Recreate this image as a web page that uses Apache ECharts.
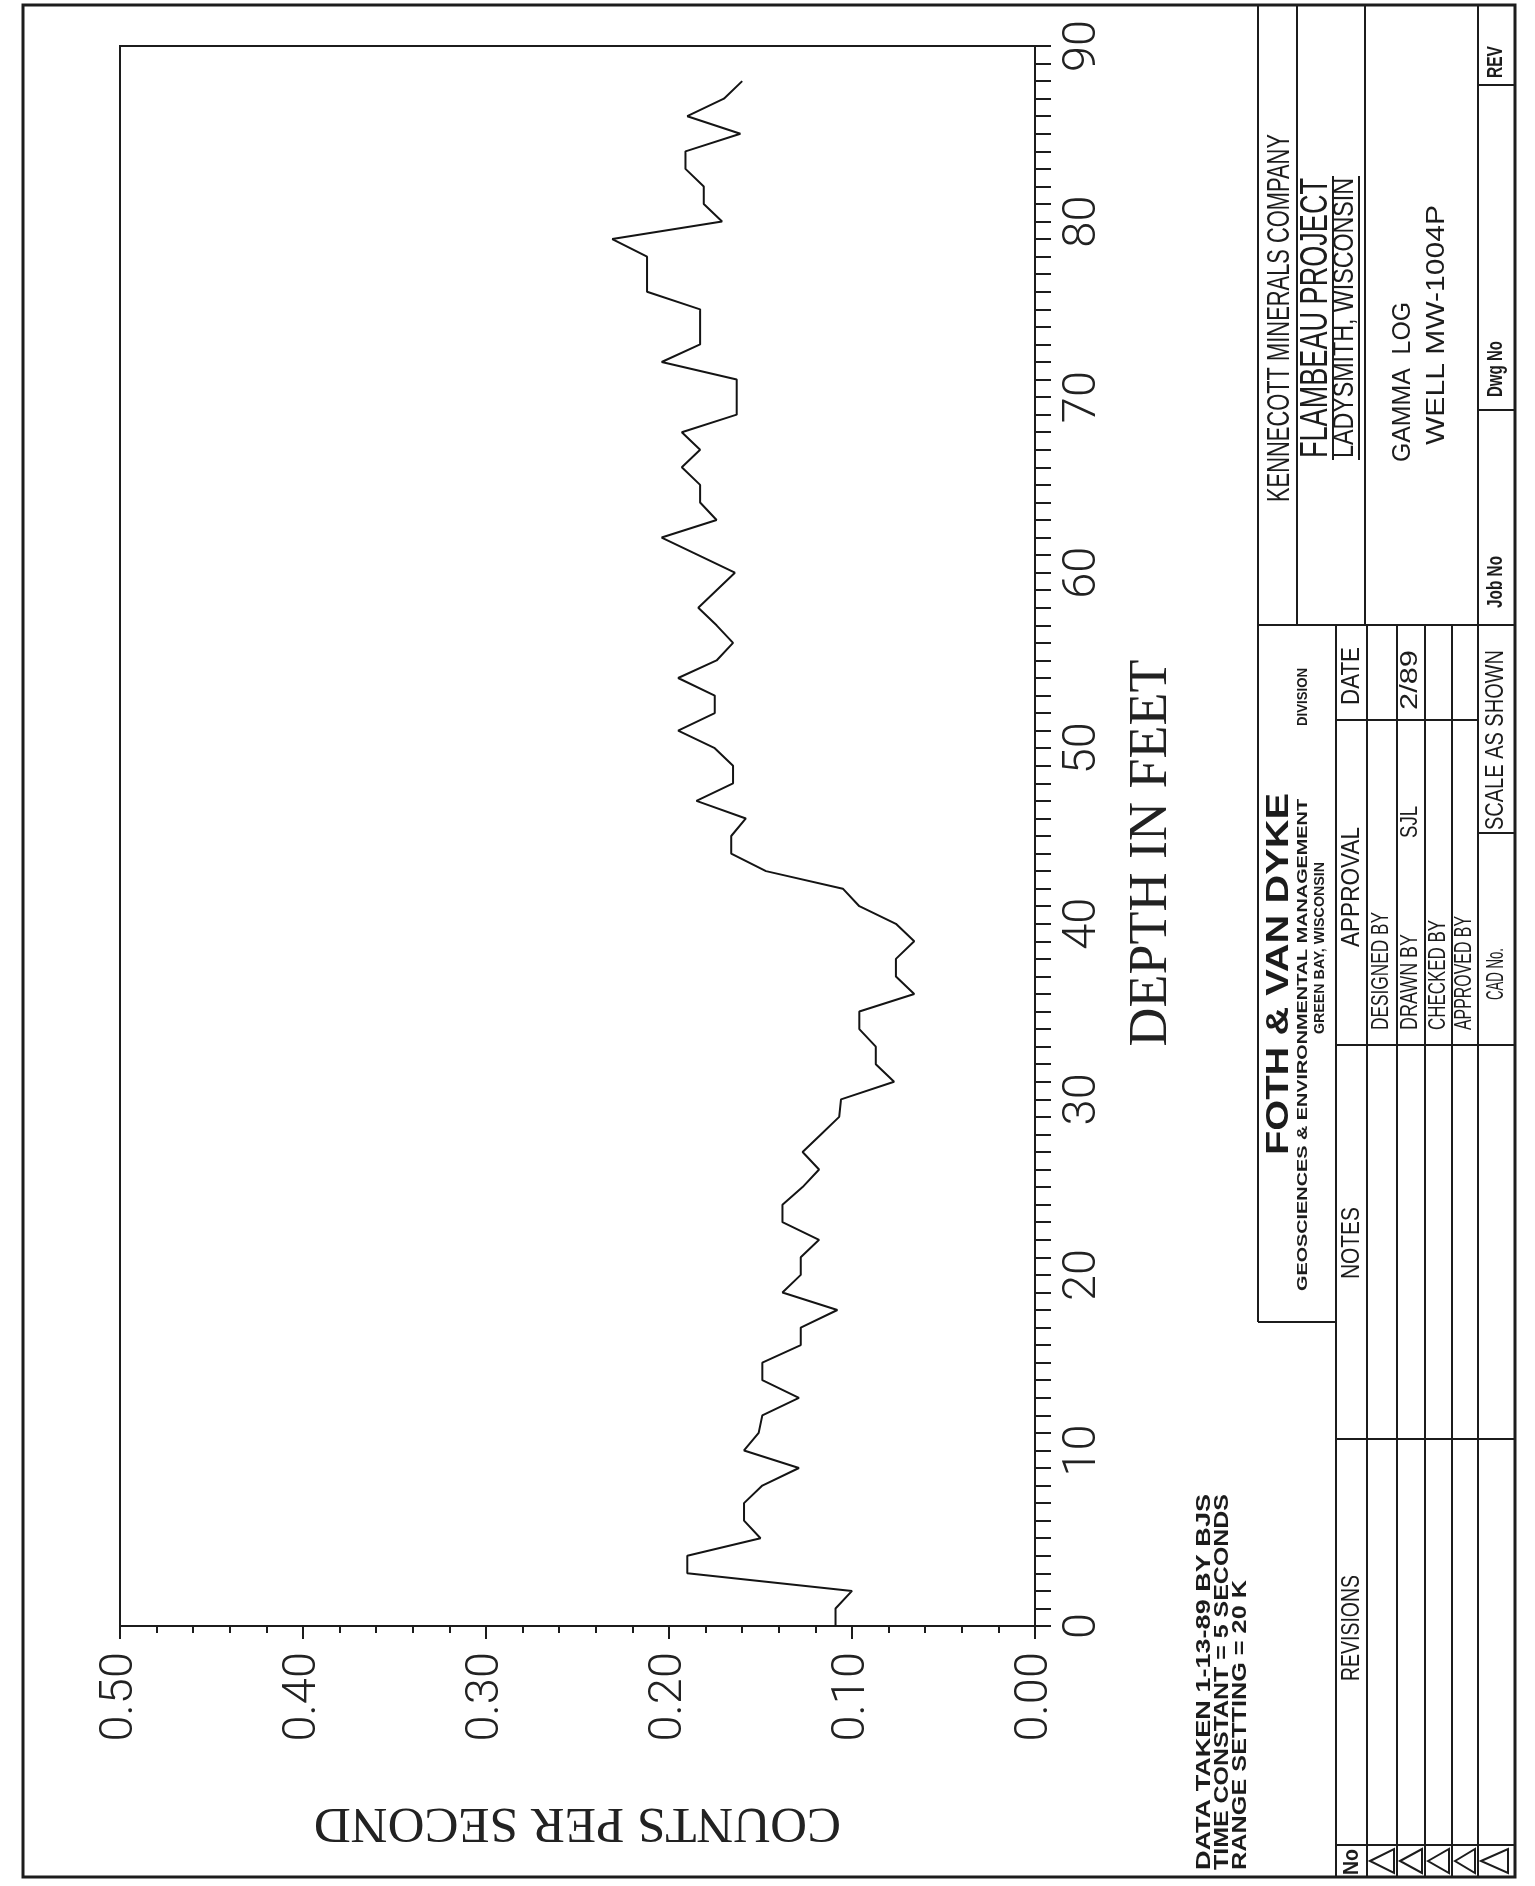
<!DOCTYPE html>
<html>
<head>
<meta charset="utf-8">
<script src="https://cdn.jsdelivr.net/npm/echarts@6/dist/echarts.min.js"></script>
<style>
html,body{margin:0;padding:0;background:#ffffff;}
#c{width:1535px;height:1886px;}
</style>
</head>
<body>
<div id="c"></div>
<script>
// ---------------- data ----------------
const depthFt = [
  0,1,2,3,4,5,6,7,8,9,
  10,11,12,13,14,15,16,17,18,19,
  20,21,22,23,24,25,26,27,28,29,
  30,31,32,33,34,35,36,37,38,39,
  40,41,42,43,44,45,46,47,48,49,
  50,51,52,53,54,55,56,57,58,59,
  60,61,62,63,64,65,66,67,68,69,
  70,71,72,73,74,75,76,77,78,79,
  80,81,82,83,84,85,86,87,88
];
const countsPerSecond = [
  0.109,0.109,0.100,0.190,0.190,0.150,0.159,0.159,0.149,0.129,
  0.159,0.151,0.149,0.129,0.149,0.149,0.128,0.128,0.108,0.138,
  0.128,0.128,0.118,0.138,0.138,0.127,0.118,0.127,0.117,0.107,
  0.106,0.077,0.087,0.087,0.096,0.096,0.066,0.076,0.076,0.066,
  0.076,0.096,0.105,0.147,0.166,0.166,0.158,0.185,0.165,0.165,
  0.175,0.195,0.175,0.175,0.195,0.174,0.165,0.174,0.184,0.174,
  0.164,0.184,0.204,0.174,0.183,0.183,0.193,0.183,0.193,0.163,
  0.163,0.163,0.204,0.183,0.183,0.183,0.212,0.212,0.212,0.231,
  0.171,0.181,0.181,0.191,0.191,0.161,0.190,0.170,0.160
];
const depthTickLabels = ['0','10','20','30','40','50','60','70','80','90'];
const countTickLabels = ['0.00','0.10','0.20','0.30','0.40','0.50'];
const xAxisTitle = 'COUNTS PER SECOND';
const yAxisTitle = 'DEPTH IN FEET';
const noteLines = ['DATA TAKEN 1-13-89 BY BJS', 'TIME CONSTANT = 5 SECONDS', 'RANGE SETTING = 20 K'];
const clientLines = ['KENNECOTT MINERALS COMPANY', 'FLAMBEAU PROJECT', 'LADYSMITH, WISCONSIN'];
const drawingTitleLines = ['GAMMA  LOG', 'WELL MW-1004P'];
const firmLines = ['FOTH & VAN DYKE', 'GEOSCIENCES & ENVIRONMENTAL MANAGEMENT', 'DIVISION', 'GREEN BAY, WISCONSIN'];
const tableHeaders = ['DATE', 'APPROVAL', 'NOTES', 'REVISIONS', 'No'];
const approvalRows = ['DESIGNED BY', 'DRAWN BY', 'CHECKED BY', 'APPROVED BY'];
const drawnByName = 'SJL';
const drawnDate = '2/89';
const sheetFields = ['REV', 'Dwg No', 'Job No', 'SCALE AS SHOWN', 'CAD No.'];

// ---------------- helpers ----------------
const SANS = '"Liberation Sans Narrow","Liberation Sans",Arial,sans-serif';
const LIGHT = 'Roboto,"Liberation Sans",sans-serif';
const SERIF = '"Liberation Serif","DejaVu Serif",serif';
const INK = '#1c1c1c';
const mctx = document.createElement('canvas').getContext('2d');

function vtext(str, x, y, len, size, o) {
  o = o || {};
  const weight = o.weight || 'normal';
  const family = o.family || SANS;
  mctx.font = weight + ' ' + size + 'px ' + family;
  const w = mctx.measureText(str).width || 1;
  const sx = len ? len / w : 1;
  const align = o.align || 'center';
  return {
    type: 'text', x: x, y: y, rotation: Math.PI / 2, scaleX: sx, silent: true, z: 10,
    style: {
      text: str, fontSize: size, fontFamily: family, fontWeight: weight,
      fill: o.color || INK, align: align, verticalAlign: 'middle',
      textAlign: align, textVerticalAlign: 'middle'
    }
  };
}
function L(x1, y1, x2, y2, w) {
  return { type: 'line', silent: true, z: 10,
    shape: { x1: x1, y1: y1, x2: x2, y2: y2 },
    style: { stroke: INK, lineWidth: w || 2 } };
}

// ---------------- title block / frame ----------------
const G = [];
G.push({ type: 'rect', silent: true, z: 10, shape: { x: 23, y: 5, width: 1492, height: 1872 },
  style: { fill: 'none', stroke: INK, lineWidth: 3 } });

const rowX = [1336, 1367, 1397, 1425, 1452, 1478, 1515];
// upper section
G.push(L(1258, 5, 1258, 1322));
G.push(L(1258, 1322, 1336, 1322));
G.push(L(1297, 5, 1297, 625));
G.push(L(1365, 5, 1365, 625));
G.push(L(1258, 625, 1515, 625));
G.push(L(1478, 5, 1478, 1877));
G.push(L(1478, 85, 1515, 85));
G.push(L(1478, 410, 1515, 410));
G.push(L(1478, 833, 1515, 833));
// table
for (let i = 0; i < 5; i++) G.push(L(rowX[i], 625, rowX[i], 1877));
G.push(L(1336, 720, 1478, 720));
G.push(L(1336, 1045, 1515, 1045));
G.push(L(1336, 1439, 1515, 1439));
G.push(L(1336, 1845, 1515, 1845));
// revision triangles
for (let i = 1; i < 6; i++) {
  const xl = rowX[i] + 3, xr = (i === 5 ? 1508 : rowX[i + 1] - 3);
  G.push({ type: 'polygon', silent: true, z: 10,
    shape: { points: [[xl, 1861], [xr, 1849], [xr, 1873]] },
    style: { fill: 'none', stroke: INK, lineWidth: 2 } });
}

// client
G.push(vtext(clientLines[0], 1280, 318, 368, 31));
G.push(vtext(clientLines[1], 1317, 318, 280, 38));
G.push(L(1333, 176, 1333, 460, 2));
G.push(vtext(clientLines[2], 1345, 318, 280, 29));
G.push(L(1359, 176, 1359, 460, 2));
G.push(vtext(drawingTitleLines[0], 1403, 382, 160, 26));
G.push(vtext(drawingTitleLines[1], 1437, 325, 240, 26));
// sheet fields column
G.push(vtext(sheetFields[0], 1496, 62, 32, 22, { weight: 'bold' }));
G.push(vtext(sheetFields[1], 1496, 369, 56, 22, { weight: 'bold' }));
G.push(vtext(sheetFields[2], 1496, 582, 52, 22, { weight: 'bold' }));
G.push(vtext(sheetFields[3], 1496, 740, 180, 25));
G.push(vtext(sheetFields[4], 1496, 1000, 52, 24, { align: 'left' }));
// firm
G.push(vtext(firmLines[0], 1279, 974, 362, 31, { weight: 'bold' }));
G.push(vtext(firmLines[1], 1303, 1045, 492, 15, { weight: 'bold' }));
G.push(vtext(firmLines[2], 1303, 697, 58, 15, { weight: 'bold' }));
G.push(vtext(firmLines[3], 1320, 948, 172, 15, { weight: 'bold' }));
// table headers
G.push(vtext(tableHeaders[0], 1352, 676, 58, 25));
G.push(vtext(tableHeaders[1], 1352, 887, 120, 25));
G.push(vtext(tableHeaders[2], 1352, 1243, 72, 25));
G.push(vtext(tableHeaders[3], 1352, 1628, 106, 25));
G.push(vtext(tableHeaders[4], 1352, 1862, 26, 22, { weight: 'bold' }));
// approval rows
const rowLens = [118, 96, 110, 114];
for (let i = 0; i < 4; i++) {
  const cx = (rowX[i + 1] + rowX[i + 2]) / 2;
  G.push(vtext(approvalRows[i], cx, 1030, rowLens[i], 23, { align: 'left' }));
}
G.push(vtext(drawnByName, 1411, 822, 32, 23));
G.push(vtext(drawnDate, 1411, 680, 60, 23));
// notes
G.push(vtext(noteLines[0], 1204, 1870, 376, 20, { align: 'left', weight: 'bold' }));
G.push(vtext(noteLines[1], 1222, 1870, 376, 20, { align: 'left', weight: 'bold' }));
G.push(vtext(noteLines[2], 1240, 1870, 290, 20, { align: 'left', weight: 'bold' }));

// ---------------- chart ----------------
const chart = echarts.init(document.getElementById('c'), null, { renderer: 'canvas' });
const option = {
  animation: false,
  backgroundColor: '#ffffff',
  grid: { left: 120, right: 500, top: 46, bottom: 260, show: true,
    borderColor: INK, borderWidth: 2, backgroundColor: 'transparent' },
  xAxis: {
    type: 'value', min: 0, max: 0.5, interval: 0.1, inverse: true, position: 'bottom',
    axisLine: { show: true, onZero: false, lineStyle: { color: INK, width: 2 } },
    axisTick: { show: true, inside: false, length: 13, lineStyle: { color: INK, width: 2 } },
    minorTick: { show: true, splitNumber: 5, length: 7, lineStyle: { color: INK, width: 2 } },
    splitLine: { show: false }, minorSplitLine: { show: false },
    axisLabel: { rotate: 90, margin: 26, color: '#222', fontFamily: LIGHT, fontWeight: 300, fontSize: 47,
      formatter: function (v) { return countTickLabels[Math.round(v * 10)]; } },
    name: xAxisTitle, nameLocation: 'middle', nameRotate: 180, nameGap: 171,
    nameTextStyle: { fontFamily: SERIF, fontSize: 51, color: '#222' }
  },
  yAxis: {
    type: 'value', min: 0, max: 90, interval: 10, position: 'right',
    axisLine: { show: true, onZero: false, lineStyle: { color: INK, width: 2 } },
    axisTick: { show: true, inside: false, length: 16, lineStyle: { color: INK, width: 2 } },
    minorTick: { show: true, splitNumber: 10, length: 16, lineStyle: { color: INK, width: 2 } },
    splitLine: { show: false }, minorSplitLine: { show: false },
    axisLabel: { rotate: 90, margin: 25, color: '#222', fontFamily: LIGHT, fontWeight: 300, fontSize: 47,
      formatter: function (v) { return depthTickLabels[Math.round(v / 10)]; } },
    name: yAxisTitle, nameLocation: 'middle', nameRotate: 90, nameGap: 90,
    nameTextStyle: { fontFamily: SERIF, fontSize: 54, color: '#222', padding: [0, 34, 0, 0] }
  },
  series: [{
    type: 'line',
    data: depthFt.map(function (d, i) { return [countsPerSecond[i], d]; }),
    showSymbol: false, symbol: 'none',
    lineStyle: { color: '#141414', width: 2 }
  }],
  graphic: { elements: G }
};
chart.setOption(option);
</script>
</body>
</html>
